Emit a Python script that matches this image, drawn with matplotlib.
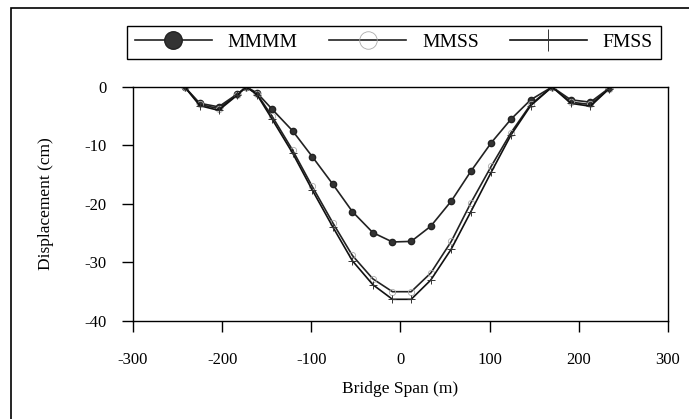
import matplotlib
matplotlib.use('Agg')
import matplotlib.pyplot as plt
from matplotlib.patches import Rectangle

# span positions (m) of the plotted points
span = [-242, -225, -204, -183, -173, -161, -144, -121, -99, -76, -54, -31, -9,
        12, 34, 57, 79, 102, 124, 146, 170, 191, 213, 234]

# displacement (cm)
mmmm = [0, -2.8, -3.4, -1.2, 0, -1.0, -3.8, -7.5, -11.9, -16.6, -21.3, -24.9, -26.5,
        -26.4, -23.8, -19.5, -14.4, -9.5, -5.5, -2.2, 0, -2.2, -2.6, -0.2]
mmss = [0, -3.0, -3.7, -1.3, 0, -1.2, -5.0, -10.8, -17.0, -23.2, -28.8, -32.8, -35.0,
        -35.0, -31.8, -26.4, -19.8, -13.5, -7.8, -3.0, 0, -2.6, -3.0, -0.3]
fmss = [0, -3.2, -4.0, -1.4, 0, -1.3, -5.5, -11.3, -17.6, -23.9, -29.7, -33.8, -36.3,
        -36.3, -33.0, -27.7, -21.3, -14.5, -8.2, -3.2, 0, -2.8, -3.3, -0.3]

x_ticks = [-300, -200, -100, 0, 100, 200, 300]
y_ticks = [0, -10, -20, -30, -40]

plt.rcParams['font.family'] = ['Liberation Serif']
plt.rcParams['axes.unicode_minus'] = False

fig = plt.figure(figsize=(6.89, 4.19), dpi=100)
ax = fig.add_axes([0.193, 0.234, 0.7765, 0.5585])

ax.plot(span, mmmm, color='#222222', lw=1.2, marker='o', markersize=4.5,
        markerfacecolor='#333333', markeredgecolor='#222222', label='MMMM')
ax.plot(span, mmss, color='#222222', lw=1.2, marker='o', markersize=4.5,
        markerfacecolor='none', markeredgecolor='#aaaaaa', markeredgewidth=0.6, label='MMSS')
ax.plot(span, fmss, color='#111111', lw=1.2, marker='+', markersize=5.5,
        markeredgecolor='#333333', markeredgewidth=0.7, label='FMSS')

ax.set_xlim(-300, 300)
ax.set_ylim(-40, 0)
ax.set_xticks(x_ticks)
ax.set_yticks(y_ticks)
ax.tick_params(direction='out', length=8, width=1, labelsize=12)
ax.tick_params(axis='x', pad=14)
ax.tick_params(axis='y', pad=11)
for s in ax.spines.values():
    s.set_linewidth(1.0)

ax.set_xlabel('Bridge Span (m)', fontsize=12.5, labelpad=10)
ax.set_ylabel('Displacement (cm)', fontsize=12.5, labelpad=22)

fig.legend(loc='center', ncol=3, mode='expand',
           bbox_to_anchor=(0.184, 0.8496, 0.775, 0.098), bbox_transform=fig.transFigure,
           fancybox=False, edgecolor='black', framealpha=1, fontsize=14,
           handlelength=4.0, markerscale=2.8, borderaxespad=0, columnspacing=1.5)
fig.legends[0].get_frame().set_linewidth(1.0)

# outer frame of the figure
fig.patches.append(Rectangle((0.016, -0.1), 1.2, 1.081, transform=fig.transFigure,
                             fill=False, edgecolor='black', lw=1.2))

fig.savefig('out.png', dpi=100)
